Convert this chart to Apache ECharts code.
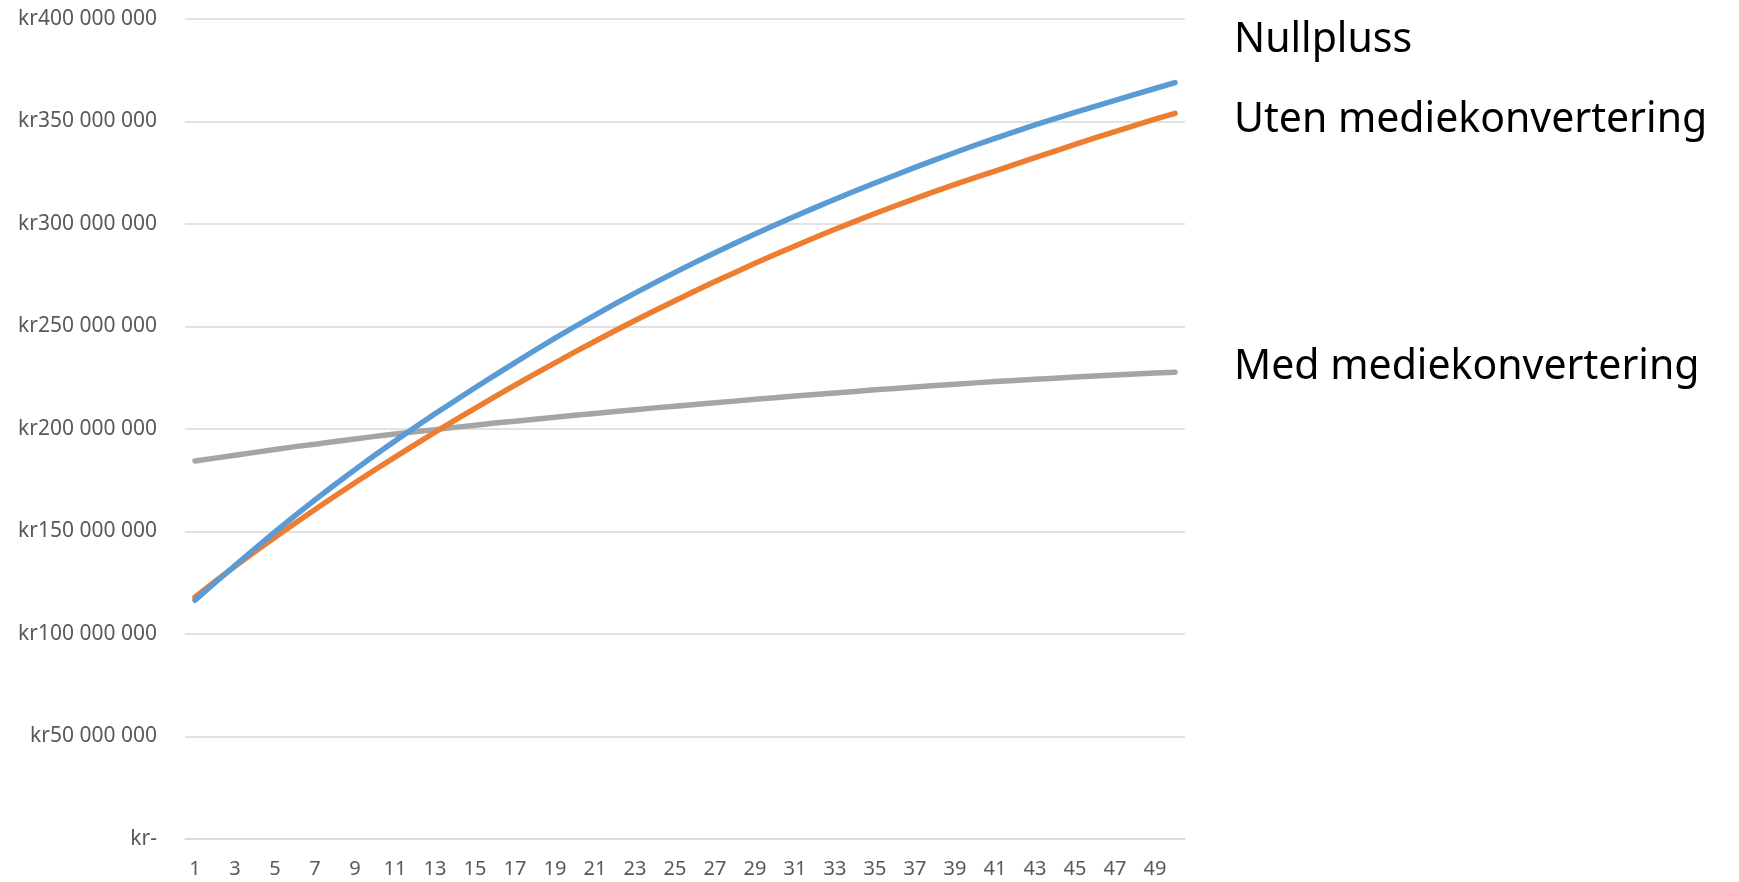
<!DOCTYPE html>
<html>
<head>
<meta charset="utf-8">
<title>Nullpluss / mediekonvertering</title>
<script src="https://cdn.jsdelivr.net/npm/echarts@6/dist/echarts.min.js"></script>
<style>
  html, body { margin: 0; padding: 0; background: #ffffff; }
  #chart { width: 1739px; height: 882px; }
</style>
</head>
<body>
<div id="chart"></div>
<script>
// Years 1..50
const years = Array.from({ length: 50 }, (_, i) => String(i + 1));

// Accumulated cost, million kr
const nullplussMill = [
  116.5, 125.0, 133.4, 141.7, 149.8, 157.7, 165.4, 172.9, 180.2, 187.3,
  194.2, 200.9, 207.4, 213.8, 220.1, 226.3, 232.4, 238.4, 244.3, 250.0,
  255.6, 261.0, 266.3, 271.4, 276.4, 281.3, 286.0, 290.6, 295.1, 299.5,
  303.8, 308.0, 312.1, 316.1, 320.0, 323.8, 327.6, 331.3, 334.9, 338.4,
  341.8, 345.1, 348.3, 351.4, 354.4, 357.4, 360.3, 363.2, 366.1, 369.0
];
const utenMill = [
  118.0, 125.6, 133.0, 140.2, 147.2, 154.0, 160.7, 167.3, 173.8, 180.1,
  186.3, 192.4, 198.4, 204.3, 210.1, 215.8, 221.4, 226.9, 232.3, 237.6,
  242.8, 247.9, 252.9, 257.8, 262.6, 267.3, 271.9, 276.4, 280.8, 285.1,
  289.3, 293.4, 297.4, 301.3, 305.1, 308.8, 312.4, 315.9, 319.3, 322.6,
  325.8, 329.1, 332.4, 335.6, 338.8, 342.0, 345.1, 348.1, 351.1, 354.0
];
const medMill = [
  184.4, 185.8, 187.2, 188.6, 190.0, 191.4, 192.6, 193.9, 195.1, 196.4,
  197.6, 198.7, 199.7, 200.8, 201.8, 202.9, 203.8, 204.8, 205.7, 206.7,
  207.6, 208.5, 209.4, 210.3, 211.1, 212.0, 212.8, 213.6, 214.5, 215.3,
  216.1, 216.8, 217.6, 218.3, 219.1, 219.8, 220.5, 221.2, 221.8, 222.5,
  223.2, 223.7, 224.3, 224.8, 225.4, 225.9, 226.4, 226.8, 227.3, 227.7
];

const seriesNames = ['Nullpluss', 'Uten mediekonvertering', 'Med mediekonvertering'];
const seriesColors = ['#5B9BD5', '#ED7D31', '#A5A5A5'];

const toKr = arr => arr.map(v => Math.round(v * 1e6));

// "kr400 000 000" style, zero shown as "kr-"
function krLabel(v) {
  if (v === 0) return 'kr-';
  return 'kr' + String(Math.round(v)).replace(/\B(?=(\d{3})+(?!\d))/g, ' ');
}

const chart = echarts.init(document.getElementById('chart'), null, { renderer: 'canvas' });

const lineSeries = [nullplussMill, utenMill, medMill].map((vals, i) => ({
  name: seriesNames[i],
  type: 'line',
  data: toKr(vals),
  showSymbol: false,
  symbol: 'none',
  smooth: false,
  lineStyle: { color: seriesColors[i], width: 5.5, cap: 'round', join: 'round' },
  itemStyle: { color: seriesColors[i] },
  z: 3 - i
}));

// Series names placed to the right of the plot
const sideLabels = [
  { text: seriesNames[0], y: 20 },
  { text: seriesNames[1], y: 100 },
  { text: seriesNames[2], y: 347 }
];

chart.setOption({
  backgroundColor: '#ffffff',
  animation: false,
  textStyle: { fontFamily: 'Noto Sans' },
  grid: { left: 185, right: 554, top: 19, bottom: 43, containLabel: false },
  xAxis: {
    type: 'category',
    data: years,
    boundaryGap: true,
    axisLine: { show: true, lineStyle: { color: '#D9D9D9', width: 1.5 } },
    axisTick: { show: false },
    axisLabel: {
      interval: 1,
      color: '#595959',
      fontSize: 20,
      fontFamily: 'Noto Sans',
      margin: 20
    },
    splitLine: { show: false }
  },
  yAxis: {
    type: 'value',
    min: 0,
    max: 400000000,
    interval: 50000000,
    axisLine: { show: false },
    axisTick: { show: false },
    axisLabel: {
      formatter: krLabel,
      color: '#595959',
      fontSize: 21,
      fontFamily: 'Noto Sans',
      margin: 28
    },
    splitLine: { show: true, lineStyle: { color: '#D9D9D9', width: 1.5 } }
  },
  series: lineSeries,
  graphic: sideLabels.map(l => ({
    type: 'text',
    left: 1234,
    top: l.y,
    style: {
      text: l.text,
      fill: '#000000',
      font: '41px "Noto Sans"',
      textVerticalAlign: 'middle',
      verticalAlign: 'middle'
    }
  }))
});
</script>
</body>
</html>
